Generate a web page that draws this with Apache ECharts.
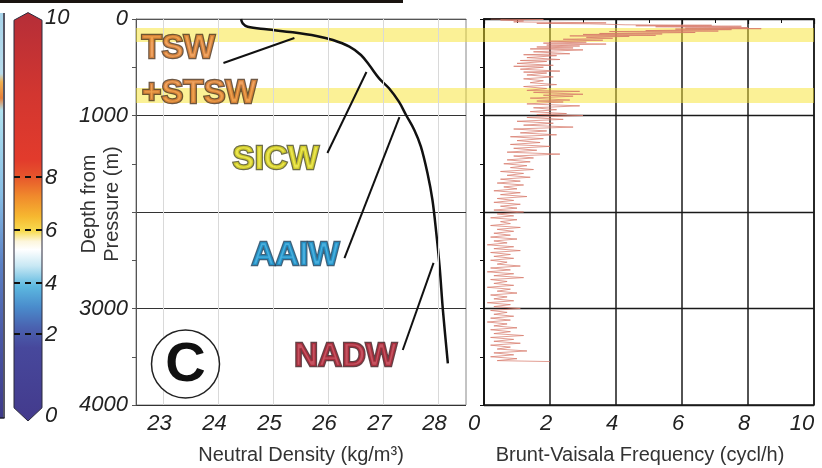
<!DOCTYPE html>
<html><head><meta charset="utf-8">
<script src="https://cdn.jsdelivr.net/npm/echarts@6/dist/echarts.min.js"></script>
<style>html,body{margin:0;padding:0;background:#fff}#c{width:822px;height:468px}</style>
</head><body><div id="c"></div>
<script>
// ---------------- data ----------------
// Neutral density profile: [density kg/m3, depth m]
const densityCurve = [[24.41,0],[24.44,45],[24.53,80],[24.87,107],[25.35,138],[25.78,176],[26.08,218],[26.38,287],[26.59,373],[26.74,477],[26.92,615],[27.10,718],[27.28,857],[27.41,995],[27.56,1150],[27.68,1323],[27.80,1599],[27.89,1876],[27.96,2220],[28.02,2567],[28.08,3016],[28.17,3568]];
// Brunt-Vaisala frequency profile: [depth m, N cycl/h]
const n2Profile = [[0,0.2],[5,1.8],[10,0.5],[15,0.8],[20,1.2],[30,0.9],[40,3.7],[45,1.6],[50,3.2],[60,4.3],[65,6.9],[70,4.6],[75,7.8],[80,5.2],[90,8.0],[95,6.1],[100,8.4],[105,5.8],[110,7.5],[120,4.9],[125,7.1],[130,3.8],[140,6.4],[150,3.5],[155,5.4],[160,3.0],[170,5.2],[175,2.6],[180,4.4],[190,3.1],[200,3.9],[210,2.4],[220,3.6],[230,2.0],[240,3.1],[250,1.8],[260,3.7],[270,1.9],[280,2.9],[290,1.6],[300,2.7],
[310,1.4],[320,3.0],[340,1.5],[360,2.6],[370,1.2],[380,2.2],[400,1.3],[420,2.3],[430,1.1],[440,1.9],[460,1.0],[480,2.1],[490,0.9],[500,1.8],[520,1.1],[540,2.3],[550,1.2],[560,1.9],[580,1.3],[600,2.1],[620,1.2],[640,1.8],[660,1.4],[680,2.2],[700,1.2],[720,1.9],[740,1.3],[750,2.9],[760,1.5],[780,3.0],[790,1.8],[800,2.7],[820,1.4],[840,2.6],[850,1.6],[860,2.4],[880,1.3],[900,2.9],[920,1.5],[940,2.2],[960,1.4],[980,2.5],[990,1.6],[1000,3.0],
[1020,1.3],[1040,2.4],[1060,1.0],[1080,2.1],[1100,1.2],[1120,2.7],[1140,0.9],[1160,1.9],[1180,1.1],[1200,2.2],[1220,0.8],[1240,1.8],[1260,1.0],[1280,1.7],[1300,0.8],[1320,2.0],[1340,0.9],[1360,1.6],[1380,0.7],[1400,2.3],[1420,0.9],[1440,1.5],[1460,0.7],[1480,1.4],[1500,0.6],[1520,1.3],[1540,0.8],[1560,1.5],[1580,0.5],[1600,1.2],[1620,0.7],[1640,1.4],[1660,0.5],[1680,1.1],[1700,0.4],[1720,1.2],[1740,0.6],[1760,1.0],[1780,0.3],[1800,1.1],[1820,0.5],[1840,1.3],[1860,0.4],[1880,0.9],[1900,0.3],[1920,1.1],[1940,0.5],[1960,1.0],[1980,0.3],
[2000,1.2],[2020,0.4],[2040,0.9],[2060,0.2],[2080,1.0],[2100,0.5],[2120,0.8],[2140,0.2],[2160,1.1],[2180,0.4],[2200,0.9],[2220,0.3],[2240,0.8],[2260,0.2],[2280,1.0],[2300,0.3],[2320,0.7],[2340,0.1],[2360,0.9],[2380,0.3],[2400,1.1],[2420,0.2],[2440,0.8],[2460,0.3],[2480,0.9],[2500,0.2],[2520,0.7],[2540,0.4],[2560,1.1],[2580,0.2],[2600,0.8],[2620,0.1],[2640,0.9],[2660,0.3],[2680,1.2],[2700,0.2],[2720,0.7],[2740,0.3],[2760,0.9],[2780,0.1],[2800,0.8],[2820,0.4],[2840,1.0],[2860,0.2],[2880,0.7],[2900,0.3],[2920,0.9],[2940,0.1],[2960,0.8],[2980,0.3],
[3000,1.1],[3020,0.2],[3040,0.7],[3060,0.3],[3080,0.9],[3100,0.2],[3120,0.8],[3140,0.1],[3160,0.7],[3180,0.3],[3200,1.0],[3220,0.2],[3240,0.8],[3260,0.3],[3280,1.2],[3300,0.2],[3320,0.9],[3340,0.3],[3360,1.1],[3380,0.2],[3400,0.8],[3420,0.4],[3440,1.3],[3460,0.3],[3480,0.9],[3500,0.2],[3520,1.0],[3540,0.4],[3550,2.0]];
const densityTicks = [23,24,25,26,27,28];
const bandDepths = [[93,238],[715,870]];
const waterMasses = ['TSW','+STSW','SICW','AAIW','NADW'];
const waterMassAnchor = [[23.27,311],[23.65,777],[25.04,1461],[25.40,2456],[26.31,3503]];
const leaderLines = [[[24.09,456],[25.38,197]],[[25.98,1389],[26.69,549]],[[26.29,2477],[27.29,1016]],[[27.35,3430],[27.91,2528]]];
const panelMark = [[23.4,3575]];
const cbTickValues = [0,2,4,6,8,10];
const cbTickFrac = [0,0.2035,0.3317,0.4648,0.598,1];

// ---------------- styles ----------------
const FONT = '"Liberation Sans", Arial, sans-serif';
const wmFill = ['#ec8c3a','#ec8c3a','#e6e024','#1b9bd6','#b8283a'];
const wmStroke = ['#4a2e16','#4a2e16','#4a4a1a','#123a58','#3c1218'];
const cbStops = [
  {offset:0,color:'#b52e38'},{offset:0.2,color:'#d23630'},{offset:0.36,color:'#e23b2c'},
  {offset:0.40,color:'#e6542c'},{offset:0.45,color:'#f08a2c'},{offset:0.50,color:'#f6b830'},
  {offset:0.535,color:'#f8dc50'},{offset:0.56,color:'#fdf6dc'},{offset:0.58,color:'#ffffff'},
  {offset:0.62,color:'#c8e8f4'},{offset:0.67,color:'#5cb8e0'},{offset:0.72,color:'#4a8ccc'},
  {offset:0.77,color:'#4a62b0'},{offset:0.82,color:'#47489c'},{offset:1,color:'#433a8c'}];

const chart = echarts.init(document.getElementById('c'), null, {renderer:'canvas'});
const italicLabel = {fontStyle:'italic', fontSize:22, color:'#222', fontFamily:FONT};
const richItalic = (pad)=>Object.assign({padding:[0,pad,0,0]}, italicLabel);

const series = [
  { type:'line', xAxisIndex:0, yAxisIndex:0, data:[], z:1, silent:true,
    markLine:{ silent:true, symbol:['none','none'], label:{show:false},
      lineStyle:{color:'#d9d9d9', width:1, type:'solid'},
      data: densityTicks.map(v=>({xAxis:v})) } },
  { type:'line', xAxisIndex:0, yAxisIndex:0, data:densityCurve, smooth:0.35, showSymbol:false,
    lineStyle:{color:'#111', width:2.5}, z:3 },
  { type:'line', xAxisIndex:1, yAxisIndex:1, data:n2Profile.map(p=>[p[1],p[0]]), showSymbol:false,
    lineStyle:{color:'#d77868', width:0.8, opacity:0.9}, z:3 },
  { type:'line', xAxisIndex:2, yAxisIndex:2, data:[], z:5, silent:true,
    markArea:{ silent:true, itemStyle:{color:'rgba(247,228,45,0.5)'},
      data: bandDepths.map(b=>[{yAxis:b[0]},{yAxis:b[1]}]) } },
  ...leaderLines.map(seg=>({ type:'line', xAxisIndex:0, yAxisIndex:0, data:seg, showSymbol:false,
    lineStyle:{color:'#111', width:2}, z:6 })),
  { type:'scatter', xAxisIndex:0, yAxisIndex:0, symbolSize:0, z:10,
    data: waterMassAnchor.map((p,i)=>({name:waterMasses[i], value:p,
      label:{color:wmFill[i], textBorderColor:wmStroke[i]}})),
    label:{show:true, position:'inside', formatter:'{b}', fontSize:33, fontWeight:'bold',
      fontFamily:FONT, textBorderWidth:2.5} },
  { type:'scatter', xAxisIndex:0, yAxisIndex:0, symbol:'circle', symbolSize:68, z:10,
    data: panelMark,
    itemStyle:{color:'#fff', borderColor:'#222', borderWidth:1.5, opacity:1},
    label:{show:true, position:'inside', formatter:'C', fontSize:56, fontWeight:900,
      fontFamily:FONT, color:'#111', offset:[0,2]} },
  { type:'custom', xAxisIndex:3, yAxisIndex:3, data:[[0.5,0.5]], clip:false, z:3,
    renderItem:(params, api)=>{
      const P=(x,f)=>api.coord([x,f]);
      return {type:'polygon', shape:{points:[P(0,0.992),P(0.5,1.011),P(1,0.992),P(1,0.018),P(0.5,-0.015),P(0,0.018)]},
        style:{fill:new echarts.graphic.LinearGradient(0,0,0,1,cbStops), stroke:'#2b2b3c', lineWidth:1}};
    } },
  { type:'custom', xAxisIndex:3, yAxisIndex:3, clip:false, z:4,
    data: cbTickValues.map((v,i)=>[0, cbTickFrac[i], v]),
    encode:{x:0, y:1},
    renderItem:(params, api)=>{
      const v=api.value(2); const p=api.coord([0, api.value(1)]);
      const children=[{type:'text', style:{text:String(v), x:p[0]+31, y:p[1]+1, align:'left', verticalAlign:'middle',
        font:'italic 22px '+FONT, fill:'#222'}}];
      if (v>0 && v<10) children.push({type:'line', shape:{x1:p[0], y1:p[1], x2:p[0]+31, y2:p[1]},
        style:{stroke:'#111', lineWidth:2, lineDash:[6,5]}});
      return {type:'group', children};
    } }
];

chart.setOption({
  backgroundColor:'#fff',
  animation:false,
  textStyle:{fontFamily:FONT},
  grid:[
    {left:136, top:19, width:330, height:386, show:true, borderColor:'#888', borderWidth:1, backgroundColor:'transparent', outerBoundsMode:'none'},
    {left:484, top:19, width:330, height:386, show:true, borderColor:'#1a1a1a', borderWidth:1.5, backgroundColor:'transparent', outerBoundsMode:'none'},
    {left:136, top:19, width:678, height:386, outerBoundsMode:'none'},
    {left:14, top:17, width:28, height:398, outerBoundsMode:'none'}
  ],
  xAxis:[
    {gridIndex:0, type:'value', min:22.5, max:28.5,
      axisLine:{show:true, lineStyle:{color:'#555', width:1}},
      axisTick:{show:true, customValues:densityTicks, length:4, lineStyle:{color:'#555'}},
      axisLabel:{customValues:densityTicks, margin:8, formatter:v=>'{m|'+v+'}', rich:{m:richItalic(8)}},
      splitLine:{show:false},
      name:'Neutral Density (kg/m³)', nameLocation:'middle', nameGap:40,
      nameTextStyle:{fontSize:20, color:'#333', fontFamily:FONT}},
    {gridIndex:1, type:'value', min:0, max:10, interval:2,
      axisLine:{show:true, lineStyle:{color:'#111', width:1.5}},
      axisTick:{show:true, length:5, lineStyle:{color:'#111', width:1.2}},
      minorTick:{show:true, splitNumber:2, length:4, lineStyle:{color:'#111'}},
      axisLabel:{margin:8, formatter:v=> v===0 ? '{s|0}' : v===10 ? '{e|10}' : '{m|'+v+'}',
        rich:{s:richItalic(20), e:richItalic(24), m:richItalic(8)}},
      splitLine:{show:true, lineStyle:{color:'#1a1a1a', width:1.5}},
      name:'Brunt-Vaisala Frequency (cycl/h)', nameLocation:'middle', nameGap:40,
      nameTextStyle:{fontSize:20, color:'#333', fontFamily:FONT, padding:[0,18,0,0]}},
    {gridIndex:2, type:'value', min:0, max:1, show:false},
    {gridIndex:3, type:'value', min:0, max:1, show:false}
  ],
  yAxis:[
    {gridIndex:0, type:'value', inverse:true, min:0, max:4000, interval:1000,
      axisLine:{show:true, lineStyle:{color:'#555'}},
      axisTick:{show:true, length:4, lineStyle:{color:'#555'}},
      minorTick:{show:true, splitNumber:2, length:4, lineStyle:{color:'#555'}},
      axisLabel:Object.assign({margin:8, formatter:v=> v===2000 ? '' : String(v)}, italicLabel),
      splitLine:{show:true, lineStyle:{color:'#333', width:1}}},
    {gridIndex:1, type:'value', inverse:true, min:0, max:4000, interval:1000,
      axisLine:{show:true, lineStyle:{color:'#111', width:1.5}},
      axisTick:{show:true, length:4, lineStyle:{color:'#111'}},
      minorTick:{show:true, splitNumber:2, length:4, lineStyle:{color:'#111'}},
      axisLabel:{show:false},
      splitLine:{show:true, lineStyle:{color:'#1a1a1a', width:1.3}}},
    {gridIndex:2, type:'value', inverse:true, min:0, max:4000, show:false},
    {gridIndex:3, type:'value', min:0, max:1, show:false}
  ],
  graphic:[
    {type:'text', x:101, y:204, rotation:Math.PI/2,
      style:{text:'Depth from\nPressure (m)', align:'center', verticalAlign:'middle',
        font:'20px '+FONT, lineHeight:23, fill:'#333'}, z:100},
    {type:'rect', left:0, top:0, shape:{width:403, height:3}, style:{fill:'#1a1410'}, z:100},
    {type:'rect', left:0, top:13, shape:{width:3, height:405},
      style:{fill:new echarts.graphic.LinearGradient(0,0,0,1,[
        {offset:0,color:'#a8d4ea'},{offset:0.15,color:'#b8dcec'},{offset:0.17,color:'#f0b050'},
        {offset:0.21,color:'#e8803a'},{offset:0.24,color:'#b0e2f0'},{offset:0.45,color:'#86bce4'},
        {offset:0.62,color:'#5a80c4'},{offset:0.8,color:'#4a58a6'},{offset:1,color:'#3e3a88'}])}, z:100},
    {type:'line', shape:{x1:4, y1:13, x2:4, y2:418}, style:{stroke:'#1e1e30', lineWidth:1.5}, z:100},
    {type:'line', shape:{x1:0, y1:418, x2:4.5, y2:418}, style:{stroke:'#1e1e30', lineWidth:1.5}, z:100}
  ],
  series
});
</script></body></html>
